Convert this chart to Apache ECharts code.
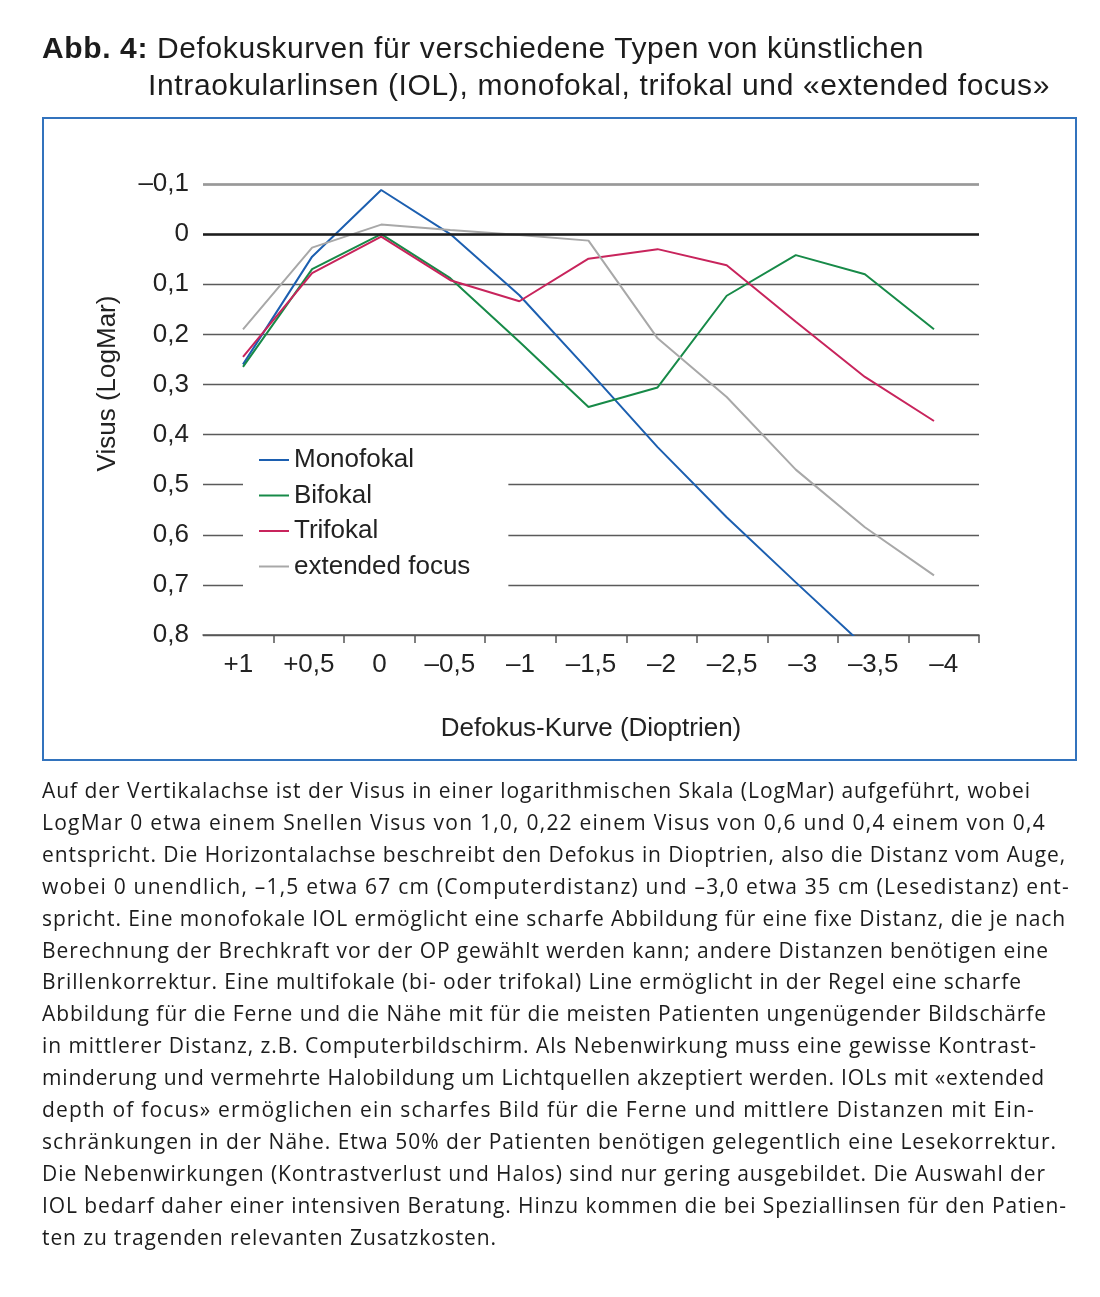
<!DOCTYPE html>
<html>
<head>
<meta charset="utf-8">
<script src="https://cdn.jsdelivr.net/npm/echarts@6/dist/echarts.min.js"></script>
<style>
  html, body { margin: 0; padding: 0; background: #fff; }
  body { width: 1100px; height: 1297px; position: relative; overflow: hidden; }
  .t { position: absolute; white-space: nowrap; color: #1c1c1c; font-family: "Liberation Sans", Arial, sans-serif; }
  .title { font-size: 30px; line-height: 37px; }
  .cap { font-size: 21px; line-height: 32px; left: 42px; font-family: "Open Sans", "Liberation Sans", sans-serif; }
  #box { position: absolute; left: 42px; top: 117px; width: 1031px; height: 640px; border: 2px solid #3273bd; }
  #chart { position: absolute; left: 0; top: 0; width: 1100px; height: 1297px; }
</style>
</head>
<body>
<div id="box"></div>
<div id="chart"></div>
<div class="t title" style="left:42px; top:29px" data-w="882"><b>Abb. 4:</b> Defokuskurven für verschiedene Typen von künstlichen</div>
<div class="t title" style="left:148px; top:66px" data-w="902">Intraokularlinsen (IOL), monofokal, trifokal und «extended focus»</div>
<div id="caption"></div>
<script>
// ---- data ----
const categories = ['+1', '+0,5', '0', '–0,5', '–1', '–1,5', '–2', '–2,5', '–3', '–3,5', '–4'];
const monofokal = [0.26, 0.045, -0.088, 0.0, 0.122, 0.272, 0.425, 0.565, 0.695, 0.823, null];
const bifokal = [0.265, 0.07, 0.0, 0.088, 0.215, 0.345, 0.306, 0.123, 0.042, 0.08, 0.19];
const trifokal = [0.245, 0.078, 0.005, 0.092, 0.134, 0.049, 0.03, 0.062, 0.175, 0.285, 0.373];
const extendedFocus = [0.19, 0.027, -0.019, -0.008, 0.002, 0.013, 0.208, 0.325, 0.47, 0.585, 0.681];
const seriesNames = ['Monofokal', 'Bifokal', 'Trifokal', 'extended focus'];
const yTickValues = [-0.1, 0, 0.1, 0.2, 0.3, 0.4, 0.5, 0.6, 0.7, 0.8];
const yTickLabels = ['–0,1', '0', '0,1', '0,2', '0,3', '0,4', '0,5', '0,6', '0,7', '0,8'];
const captionLines = [
  ['Auf der Vertikalachse ist der Visus in einer logarithmischen Skala (LogMar) aufgeführt, wobei', 989],
  ['LogMar 0 etwa einem Snellen Visus von 1,0, 0,22 einem Visus von 0,6 und 0,4 einem von 0,4', 1004],
  ['entspricht. Die Horizontalachse beschreibt den Defokus in Dioptrien, also die Distanz vom Auge,', 1024],
  ['wobei 0 unendlich, –1,5 etwa 67 cm (Computerdistanz) und –3,0 etwa 35 cm (Lesedistanz) ent-', 1028],
  ['spricht. Eine monofokale IOL ermöglicht eine scharfe Abbildung für eine fixe Distanz, die je nach', 1024],
  ['Berechnung der Brechkraft vor der OP gewählt werden kann; andere Distanzen benötigen eine', 1007],
  ['Brillenkorrektur. Eine multifokale (bi- oder trifokal) Line ermöglicht in der Regel eine scharfe', 980],
  ['Abbildung für die Ferne und die Nähe mit für die meisten Patienten ungenügender Bildschärfe', 1005],
  ['in mittlerer Distanz, z.B. Computerbildschirm. Als Nebenwirkung muss eine gewisse Kontrast-', 995],
  ['minderung und vermehrte Halobildung um Lichtquellen akzeptiert werden. IOLs mit «extended', 1003],
  ['depth of focus» ermöglichen ein scharfes Bild für die Ferne und mittlere Distanzen mit Ein-', 993],
  ['schränkungen in der Nähe. Etwa 50% der Patienten benötigen gelegentlich eine Lesekorrektur.', 1015],
  ['Die Nebenwirkungen (Kontrastverlust und Halos) sind nur gering ausgebildet. Die Auswahl der', 1004],
  ['IOL bedarf daher einer intensiven Beratung. Hinzu kommen die bei Speziallinsen für den Patien-', 1025],
  ['ten zu tragenden relevanten Zusatzkosten.', 455]
];
const colors = ['#1c5fb0', '#178a48', '#c8245c', '#a8a8a8'];

// ---- caption text ----
const cap = document.getElementById('caption');
captionLines.forEach(function (l, i) {
  const d = document.createElement('div');
  d.className = 't cap';
  d.style.top = (774 + i * 31.9) + 'px';
  d.setAttribute('data-w', l[1]);
  d.textContent = l[0];
  cap.appendChild(d);
});
document.querySelectorAll('[data-w]').forEach(function (el) {
  const target = parseFloat(el.getAttribute('data-w'));
  const w = el.getBoundingClientRect().width;
  const n = el.textContent.length;
  el.style.letterSpacing = ((target - w) / n) + 'px';
});

// ---- chart ----
const chart = echarts.init(document.getElementById('chart'), null, { renderer: 'canvas' });
const font = '"Liberation Sans", Arial, sans-serif';
const makeSeries = function (name, data, i) {
  return {
    name: name, type: 'line', data: data,
    xAxisIndex: 1, yAxisIndex: 1,
    symbol: 'none', showSymbol: false, clip: true, silent: true,
    lineStyle: { width: 2, color: colors[i] },
    itemStyle: { color: colors[i] },
    z: 3
  };
};
const option = {
  animation: false,
  backgroundColor: 'transparent',
  textStyle: { fontFamily: font },
  grid: [
    { left: 203, top: 184, width: 776, height: 451 },
    { left: 208.45, top: 184, width: 760.1, height: 451 }
  ],
  legend: {
    data: seriesNames,
    orient: 'vertical',
    left: 243, top: 440,
    icon: 'rect', itemWidth: 30, itemHeight: 2, itemGap: 5.5,
    padding: [5, 38, 8, 16],
    backgroundColor: '#ffffff',
    selectedMode: false,
    textStyle: { fontSize: 26, lineHeight: 30, color: '#222', fontFamily: font },
    z: 5
  },
  xAxis: [
    {
      gridIndex: 0, type: 'category', data: categories, boundaryGap: true,
      axisLine: { onZero: false, lineStyle: { color: '#555', width: 1.5 } },
      axisTick: { show: true, length: 8, lineStyle: { color: '#555', width: 1.5 },
                  interval: function (idx) { return idx !== 0; } },
      axisLabel: { fontSize: 26, color: '#222', margin: 17, fontFamily: font, interval: 0 },
      name: 'Defokus-Kurve (Dioptrien)', nameLocation: 'middle', nameGap: 81,
      nameTextStyle: { fontSize: 26, color: '#222', fontFamily: font }
    },
    { gridIndex: 1, type: 'category', data: categories, boundaryGap: true, show: false }
  ],
  yAxis: [
    {
      gridIndex: 0, type: 'value', inverse: true, min: -0.1, max: 0.8, interval: 0.1,
      axisLine: { show: false }, axisTick: { show: false },
      splitLine: { show: true, lineStyle: { color: '#5a5a5a', width: 1.3 } },
      axisLabel: {
        fontSize: 26, color: '#222', margin: 14, fontFamily: font,
        formatter: function (v) {
          const k = yTickValues.findIndex(function (t) { return Math.abs(t - v) < 1e-6; });
          return k >= 0 ? yTickLabels[k] : '';
        }
      },
      name: 'Visus (LogMar)', nameLocation: 'middle', nameGap: 82, nameRotate: 90,
      nameTextStyle: { fontSize: 26, color: '#222', fontFamily: font, padding: [0, 0, 0, 52] }
    },
    { gridIndex: 1, type: 'value', inverse: true, min: -0.1, max: 0.8, interval: 0.1, show: false }
  ],
  series: [
    {
      name: 'ref', type: 'line', xAxisIndex: 0, yAxisIndex: 0,
      data: categories.map(function () { return null; }), silent: true, symbol: 'none',
      markLine: {
        silent: true, symbol: 'none', label: { show: false },
        data: [
          { yAxis: 0, lineStyle: { color: '#1e1e1e', width: 2.5, type: 'solid' } },
          { yAxis: -0.1, lineStyle: { color: '#999999', width: 2.5, type: 'solid' } }
        ]
      }
    },
    makeSeries(seriesNames[0], monofokal, 0),
    makeSeries(seriesNames[1], bifokal, 1),
    makeSeries(seriesNames[2], trifokal, 2),
    makeSeries(seriesNames[3], extendedFocus, 3)
  ]
};
chart.setOption(option);
</script>
</body>
</html>
